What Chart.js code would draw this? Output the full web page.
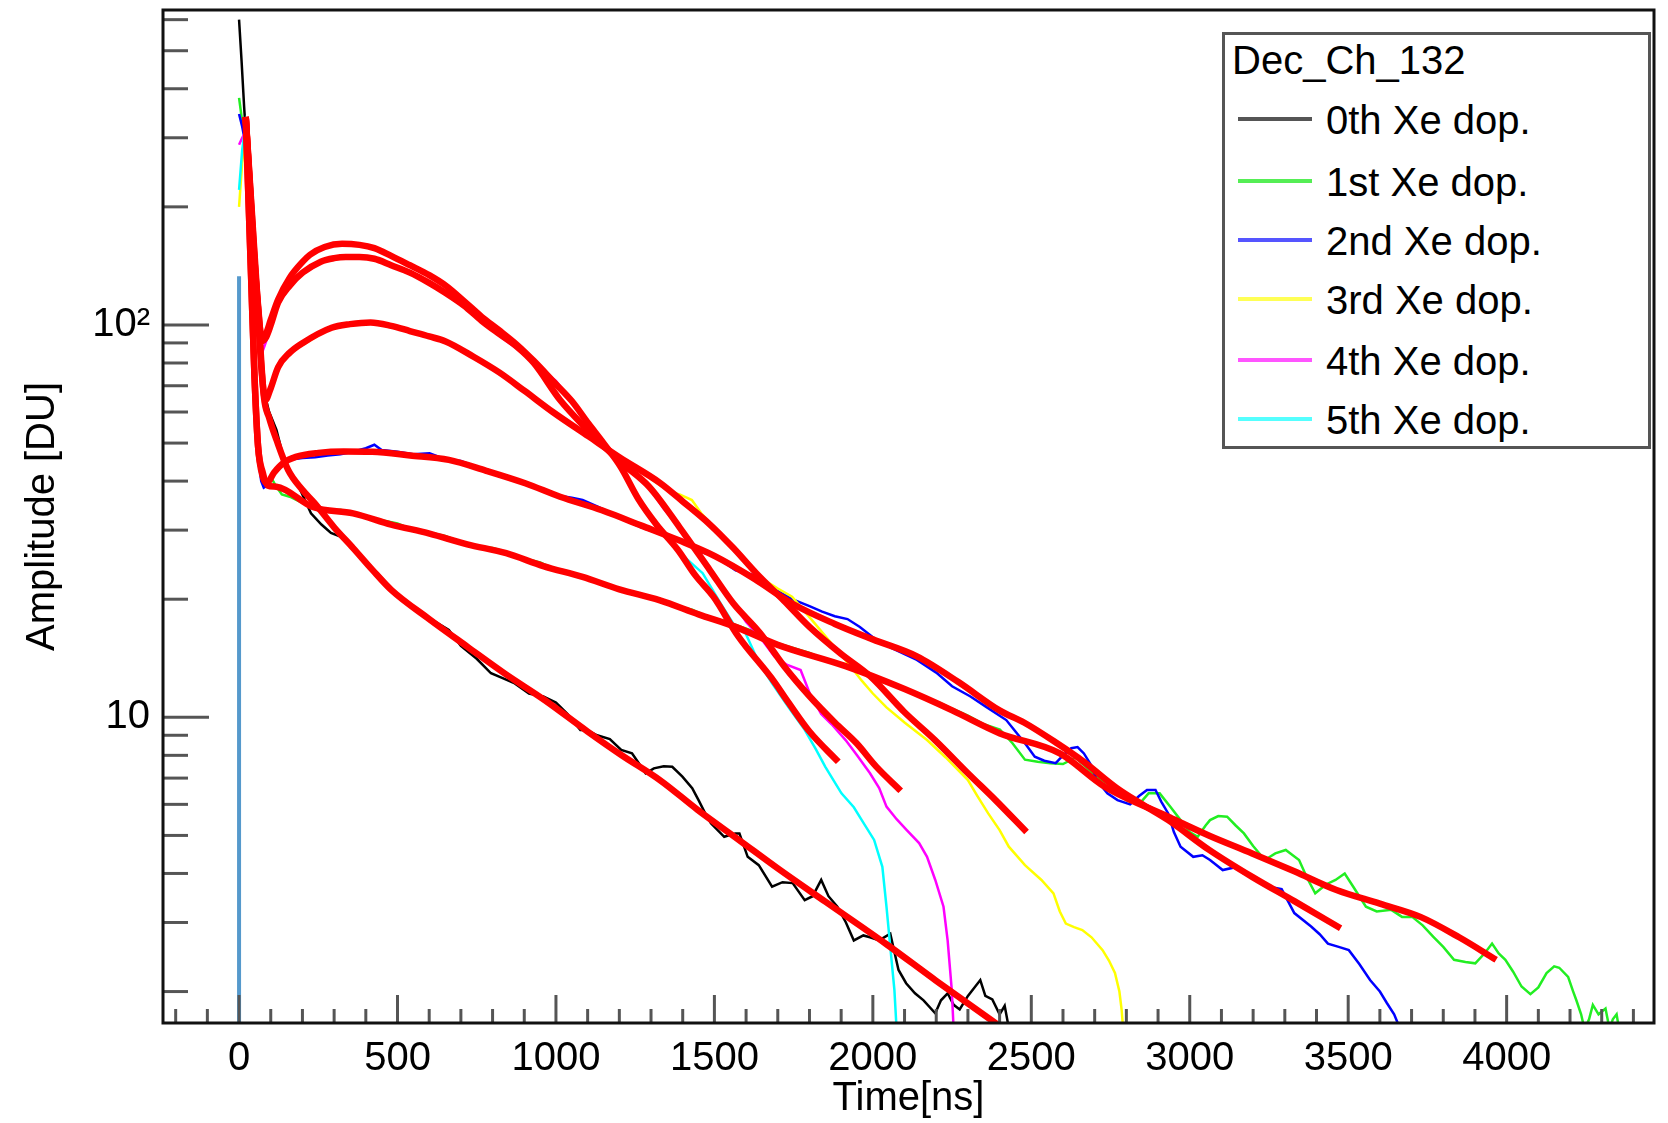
<!DOCTYPE html>
<html>
<head>
<meta charset="utf-8">
<script src="https://cdn.jsdelivr.net/npm/chart.js@4.4.1/dist/chart.umd.min.js"></script>
<style>
  html, body { margin: 0; padding: 0; background: #fff; }
  #wrap { position: relative; width: 1668px; height: 1123px; }
  #myChart { position: absolute; left: 0; top: 0; }
  #legend {
    position: absolute; left: 1222px; top: 32px; width: 429px; height: 417px;
    box-sizing: border-box; border: 3px solid #555; background: #fff;
    font-family: "Liberation Sans", Arial, Helvetica, sans-serif; font-size: 40px; color: #000;
  }
  #legend .row { position: absolute; height: 48px; line-height: 48px; white-space: nowrap; }
  #legend .swatch { position: absolute; height: 4px; width: 74px; }
</style>
</head>
<body>
<div id="wrap">
  <canvas id="myChart" width="1668" height="1123"></canvas>
  <div id="legend"></div>
</div>
<script>
// values: [time ns, amplitude DU]
const seriesNames = ["0th Xe dop.", "1st Xe dop.", "2nd Xe dop.", "3rd Xe dop.", "4th Xe dop.", "5th Xe dop."];
const legendTitle = "Dec_Ch_132";

const dop0 = [[0,600],[8,470],[16,360],[24,285],[40,190],[60,108],[78,68],[95,60],[118,54],[140,46],[160,42],[190,38.5],[227,33.1],[260,31],[290,29.5],[324,28.8],[360,27.3],[400,25],[456,22.4],[500,20.3],[550,19],[600,17.9],[662,16.7],[700,15.2],[750,14.1],[795,12.95],[830,12.6],[870,12.2],[915,11.5],[960,11.3],[1000,10.9],[1036,10.2],[1077,9.29],[1096,9.3],[1130,9.0],[1170,8.8],[1206,8.26],[1240,8.1],[1283,7.2],[1309,7.41],[1340,7.5],[1367,7.48],[1399,7.06],[1430,6.6],[1450,6.15],[1471,5.69],[1489,5.37],[1531,4.96],[1566,5.06],[1579,5.06],[1605,4.41],[1640,4.2],[1682,3.7],[1715,3.8],[1747,3.78],[1785,3.42],[1810,3.5],[1837,3.85],[1860,3.5],[1888,3.29],[1915,3.0],[1940,2.7],[1970,2.78],[1991,2.75],[2020,2.7],[2055,2.81],[2081,2.27],[2105,2.1],[2133,1.98],[2160,1.9],[2197,1.76],[2215,1.9],[2236,1.98],[2255,1.85],[2274,1.8],[2300,1.95],[2339,2.14],[2355,1.95],[2377,1.91],[2400,1.75],[2416,1.84],[2430,1.6],[2440,1.5]];

const dop1 = [[0,379],[10,330],[20,300],[30,210],[40,130],[50,76],[60,52],[70,44],[80,40.5],[90,40],[100,41],[115,39],[135,37],[160,36.5],[190,35.5],[235,34.5],[280,33.5],[320,33.8],[360,33.2],[400,32.5],[450,31.8],[500,31.2],[550,30],[600,29.6],[650,29],[700,28],[750,27.3],[800,27],[843,26.4],[900,25.4],[950,24.8],[1000,23.8],[1050,23.3],[1084,23],[1130,22.3],[1180,21.5],[1238,20.9],[1280,20.4],[1326,20.1],[1380,19.2],[1430,18.8],[1480,18],[1530,17.6],[1567,17.2],[1620,16.6],[1680,15.6],[1740,15.1],[1800,14.6],[1860,13.9],[1914,13.6],[1970,13.1],[2030,12.3],[2100,11.9],[2160,11.2],[2210,10.9],[2252,10.5],[2300,10.1],[2350,9.6],[2401,9.3],[2440,8.6],[2480,7.8],[2520,7.7],[2560,7.64],[2600,7.6],[2640,7.9],[2670,7.5],[2706,7.06],[2750,6.7],[2800,6.15],[2840,6.0],[2870,6.4],[2905,6.4],[2940,5.9],[2971,5.47],[3000,5.1],[3025,4.96],[3050,5.3],[3064,5.47],[3090,5.6],[3118,5.58],[3145,5.3],[3171,5.06],[3200,4.7],[3237,4.33],[3270,4.5],[3303,4.59],[3325,4.45],[3345,4.33],[3370,3.9],[3396,3.56],[3430,3.75],[3460,3.85],[3489,4.0],[3516,3.7],[3556,3.29],[3590,3.2],[3636,3.23],[3670,3.1],[3702,3.1],[3735,2.95],[3768,2.76],[3800,2.6],[3834,2.41],[3870,2.38],[3901,2.36],[3930,2.5],[3954,2.65],[3975,2.5],[3996,2.41],[4020,2.25],[4047,2.06],[4075,1.97],[4100,2.05],[4126,2.23],[4150,2.32],[4166,2.3],[4194,2.18],[4210,2.0],[4220,1.9],[4235,1.75],[4246,1.6],[4260,1.7],[4272,1.85],[4290,1.75],[4312,1.81],[4325,1.6],[4335,1.7],[4347,1.75],[4355,1.6]];

const dop2 = [[0,345],[10,320],[20,290],[30,200],[40,115],[50,66],[60,46],[70,40],[78,38.5],[90,39],[100,41],[115,43],[140,44.5],[170,45.5],[200,45.8],[240,46],[280,46.5],[320,46.8],[360,47.5],[400,48.5],[427,49.5],[450,48],[500,47.5],[550,46.8],[601,47.1],[650,45.5],[700,45],[750,43.5],[800,42],[843,41],[900,39.8],[950,38.5],[1000,36.8],[1050,36.3],[1084,35.8],[1130,34.5],[1180,33],[1230,31.5],[1265,30.6],[1320,29.5],[1386,28.5],[1450,26.5],[1500,25.8],[1567,23.7],[1628,23],[1690,21.2],[1745,20],[1800,19.2],[1840,18.6],[1880,18.1],[1920,17.8],[1959,17.0],[2000,16],[2060,15],[2100,14.5],[2139,14.0],[2200,13],[2250,12],[2308,11.3],[2360,10.6],[2421,9.84],[2450,9.2],[2480,8.59],[2511,7.94],[2541,7.75],[2577,7.64],[2600,8.0],[2626,8.34],[2646,8.4],[2666,8.09],[2691,7.5],[2706,6.92],[2740,6.4],[2772,6.15],[2812,6.0],[2840,6.3],[2865,6.53],[2892,6.53],[2910,6.1],[2932,5.69],[2950,5.1],[2971,4.68],[3011,4.41],[3040,4.45],[3064,4.33],[3104,4.08],[3144,4.15],[3170,4.0],[3197,3.92],[3225,3.8],[3250,3.7],[3290,3.65],[3310,3.4],[3330,3.17],[3383,2.93],[3410,2.8],[3436,2.65],[3470,2.6],[3502,2.55],[3535,2.35],[3569,2.14],[3600,2.0],[3622,1.87],[3645,1.75],[3662,1.62]];

const dop3 = [[0,200],[10,260],[20,300],[40,175],[60,105],[72,72],[83,62],[95,67],[123,79],[160,86],[201,89],[250,94],[292,98.4],[350,100],[415,101],[480,99],[539,96.5],[600,93],[652,90.5],[700,86],[740,83],[780,79],[821,75.5],[860,72],[900,68.5],[950,63.5],[990,60],[1050,55],[1103,52],[1150,48.5],[1200,46],[1260,43],[1300,40.5],[1340,38.5],[1362,37.5],[1390,37],[1429,35.8],[1460,33],[1500,30.5],[1540,28],[1576,26.2],[1620,24],[1660,22.3],[1700,21.3],[1745,20.3],[1800,18],[1862,15.7],[1920,13.8],[1965,12.4],[2000,11.5],[2043,10.6],[2100,9.7],[2171,8.75],[2230,7.9],[2300,6.92],[2330,6.3],[2364,5.69],[2400,5.16],[2429,4.68],[2480,4.2],[2532,3.85],[2570,3.56],[2590,3.2],[2609,2.98],[2635,2.92],[2661,2.87],[2690,2.75],[2725,2.55],[2745,2.4],[2764,2.23],[2778,2.0],[2785,1.8],[2790,1.6]];

const dop4 = [[0,288],[10,300],[20,310],[40,170],[55,118],[66,98],[75,86],[90,93],[105,102],[123,113],[160,125],[201,135],[258,144],[300,147],[337,149],[380,148],[427,147],[480,141],[539,135],[600,128],[652,120],[710,111],[765,102],[820,94],[877,87],[930,80],[1000,72],[1050,64],[1100,55],[1150,50],[1200,45.5],[1250,41.5],[1294,38.5],[1340,34],[1390,30.5],[1440,27],[1486,24],[1530,21.3],[1560,19.6],[1600,17.5],[1644,16.0],[1689,14.3],[1730,13.6],[1772,13.2],[1801,11.5],[1837,10.2],[1870,9.6],[1914,8.75],[1950,8.0],[1991,7.2],[2020,6.6],[2043,5.92],[2075,5.5],[2107,5.16],[2146,4.78],[2171,4.41],[2197,3.85],[2223,3.29],[2236,2.7],[2249,2.02],[2255,1.6]];

const dop5 = [[0,221],[10,280],[20,320],[44,160],[60,108],[72,90],[85,93],[100,102],[123,117],[160,133],[201,146],[224,152],[270,158],[325,161],[380,160],[427,157],[480,150],[539,142],[600,134],[652,126],[710,115],[765,105],[820,97],[877,89],[930,81],[990,72],[1050,64],[1103,56],[1150,50],[1204,43.5],[1260,36],[1317,30.6],[1385,26.5],[1463,23.3],[1520,19.5],[1560,17.3],[1598,16.4],[1640,13.8],[1682,12.2],[1734,10.6],[1785,9.29],[1820,8.3],[1850,7.48],[1901,6.4],[1940,5.9],[1965,5.47],[2004,4.87],[2030,4.16],[2043,3.29],[2055,2.6],[2068,2.02],[2075,1.6]];

// fitted curves (red)
const fit0 = [[21,339],[40,196],[60,110],[78,66],[95,58],[118,51],[155,42.7],[200,38],[239,35.1],[300,30.5],[360,27],[420,23.8],[481,21.1],[600,17.8],[722,15.1],[840,12.9],[964,11.07],[1100,9.2],[1205,8.03],[1330,6.9],[1446,5.82],[1579,4.86],[1700,4.12],[1850,3.39],[2043,2.64],[2200,2.13],[2397,1.64],[2450,1.53]];
const fit1 = [[21,339],[38,133],[49,73],[60,49],[75,42],[90,39],[118,38.7],[235,34.3],[360,33.1],[480,31],[601,29.4],[720,27.6],[843,26.2],[960,24.3],[1084,22.8],[1200,21.2],[1326,19.9],[1450,18.3],[1567,17.0],[1700,15.3],[1914,13.5],[2100,11.8],[2252,10.4],[2401,9.1],[2590,8.09],[2732,6.65],[2932,5.58],[3060,5.0],[3197,4.5],[3330,4.05],[3463,3.63],[3600,3.35],[3728,3.1],[3850,2.75],[3967,2.41]];
const fit2 = [[21,339],[38,133],[49,73],[60,49],[75,41],[88,39.6],[110,42],[140,44.5],[179,46.1],[250,47.2],[330,47.6],[420,47.5],[540,46.5],[662,45.3],[780,42.5],[903,39.5],[1013,36.5],[1145,33.7],[1270,30.8],[1386,28.3],[1500,25.8],[1628,22.5],[1745,19.5],[1880,17.3],[2000,15.8],[2139,14.3],[2270,12.3],[2401,10.4],[2477,9.7],[2580,8.6],[2666,7.7],[2770,6.6],[2850,6.0],[2932,5.47],[3060,4.6],[3197,3.92],[3330,3.4],[3476,2.9]];
const fit3 = [[21,339],[44,170],[60,105],[72,75],[83,64.4],[100,69],[123,78],[160,85],[201,90],[292,98.4],[350,100.5],[415,101.5],[480,99.5],[539,96.5],[600,93.5],[652,90.8],[740,83],[821,75.7],[900,68],[990,60],[1103,52],[1200,46],[1328,39.6],[1400,35.5],[1486,31],[1560,27],[1632,23.3],[1720,19.8],[1800,17],[1900,14.5],[1993,12.7],[2100,10.3],[2196,8.75],[2300,7.2],[2387,6.15],[2485,5.1]];
const fit4 = [[21,339],[44,165],[60,112],[72,91],[85,93],[100,100],[123,114],[160,126],[201,136],[258,145],[300,148],[337,149],[380,149],[427,147.5],[480,142],[539,136],[600,128],[652,120.6],[710,112],[765,102.6],[820,95],[877,88],[930,80],[1013,64.4],[1100,54],[1200,45],[1294,38.7],[1390,30.5],[1486,23.7],[1560,19.5],[1644,16.4],[1720,13.5],[1801,11.3],[1880,9.7],[1948,8.6],[2010,7.5],[2088,6.5]];
const fit5 = [[21,339],[44,163],[60,110],[72,92],[85,95],[100,103],[123,116],[160,132],[201,145],[224,151],[270,158],[325,161],[380,160],[427,157],[480,150],[539,142],[600,134],[652,126],[710,115],[765,105],[820,97],[877,89],[930,81],[990,72],[1050,64],[1103,56],[1150,50],[1204,43.5],[1260,36],[1317,31],[1385,26.7],[1440,23],[1497,20.3],[1576,16.05],[1680,12.6],[1734,10.9],[1800,9.2],[1891,7.7]];

// vertical rising edge at t = 0
const edgeLine = [[0,1.5],[0,133]];

const xTickValues = [0, 500, 1000, 1500, 2000, 2500, 3000, 3500, 4000];
const yTickValues = [10, 100];
const yTickLabels = ["10", "10\u00B2"];
const yMinorTicks = [2, 3, 4, 5, 6, 7, 8, 9, 20, 30, 40, 50, 60, 70, 80, 90, 200, 300, 400, 500, 600];

const dataSeries = [dop0, dop1, dop2, dop3, dop4, dop5];
const fitSeries = [fit0, fit1, fit2, fit3, fit4, fit5];

const lineColors = ["#000000", "#22ee22", "#0000ff", "#ffff00", "#ff00ff", "#00ffff"];
const legendColors = ["#555555", "#55ee55", "#5555ff", "#ffff55", "#ff55ff", "#55ffff"];
const fontFamily = '"Liberation Sans", Arial, Helvetica, sans-serif';

function toPoints(arr) {
  return arr.map(p => ({ x: p[0], y: p[1] }));
}

const datasets = [];
dataSeries.forEach((s, i) => {
  datasets.push({
    label: seriesNames[i],
    data: toPoints(s),
    showLine: true,
    borderColor: lineColors[i],
    borderWidth: 2.5,
    pointRadius: 0,
    tension: 0,
    order: 10 - i,
  });
});
datasets.push({
  label: "edge",
  data: toPoints(edgeLine),
  showLine: true,
  borderColor: "#5599cc",
  borderWidth: 4,
  pointRadius: 0,
  order: 2,
});
fitSeries.forEach((s, i) => {
  datasets.push({
    label: "fit " + i,
    data: toPoints(s),
    showLine: true,
    borderColor: "#ff0000",
    borderWidth: 6.5,
    pointRadius: 0,
    cubicInterpolationMode: "monotone",
    order: 1,
  });
});

// ROOT style frame and inward ticks
const rootAxes = {
  id: "rootAxes",
  afterDraw(chart) {
    const { ctx, chartArea: a, scales } = chart;
    ctx.save();
    ctx.strokeStyle = "#555";
    ctx.lineWidth = 3;
    for (let v = -200; v <= 4400; v += 100) {
      const px = scales.x.getPixelForValue(v);
      const len = v % 500 === 0 ? 28 : 14;
      ctx.beginPath();
      ctx.moveTo(px, a.bottom);
      ctx.lineTo(px, a.bottom - len);
      ctx.stroke();
    }
    yMinorTicks.concat(yTickValues).forEach(v => {
      const py = scales.y.getPixelForValue(v);
      const len = yTickValues.includes(v) ? 46 : 25;
      ctx.beginPath();
      ctx.moveTo(a.left, py);
      ctx.lineTo(a.left + len, py);
      ctx.stroke();
    });
    ctx.strokeStyle = "#111";
    ctx.lineWidth = 3;
    ctx.strokeRect(a.left, a.top, a.right - a.left, a.bottom - a.top);
    ctx.restore();
  },
};

const ctx = document.getElementById("myChart");
new Chart(ctx, {
  type: "scatter",
  data: { datasets: datasets },
  options: {
    responsive: false,
    animation: false,
    layout: { padding: { top: 10, right: 14, left: 0, bottom: 0 } },
    plugins: {
      legend: { display: false },
      tooltip: { enabled: false },
    },
    scales: {
      x: {
        type: "linear",
        min: -240,
        max: 4465,
        afterBuildTicks: s => { s.ticks = xTickValues.map(v => ({ value: v })); },
        afterFit: s => { s.height = 100; s.paddingLeft = 0; s.paddingRight = 0; },
        grid: { display: false, drawTicks: false },
        border: { display: false },
        ticks: {
          color: "#000",
          font: { family: fontFamily, size: 40 },
          padding: 12,
          maxRotation: 0,
          autoSkip: false,
          callback: v => String(v),
        },
        title: {
          display: true,
          text: "Time[ns]",
          color: "#000",
          font: { family: fontFamily, size: 40 },
          padding: { top: 0, bottom: 0 },
        },
      },
      y: {
        type: "logarithmic",
        min: 1.663,
        max: 635,
        afterBuildTicks: s => { s.ticks = yTickValues.map(v => ({ value: v })); },
        afterFit: s => { s.width = 163; s.paddingTop = 0; s.paddingBottom = 0; },
        grid: { display: false, drawTicks: false },
        border: { display: false },
        ticks: {
          color: "#000",
          font: { family: fontFamily, size: 40 },
          padding: 13,
          autoSkip: false,
          callback: v => {
            const k = yTickValues.indexOf(v);
            return k >= 0 ? yTickLabels[k] : "";
          },
        },
        title: {
          display: true,
          text: "Amplitude [DU]",
          color: "#000",
          font: { family: fontFamily, size: 40 },
          padding: { top: 19, bottom: 0 },
        },
      },
    },
  },
  plugins: [rootAxes],
});

// legend box
const legend = document.getElementById("legend");
const boxLeft = 1222, boxTop = 32, border = 3;
function addRow(text, centerY, textX) {
  const row = document.createElement("div");
  row.className = "row";
  row.style.left = (textX - boxLeft - border) + "px";
  row.style.top = (centerY - 23.5 - boxTop - border) + "px";
  row.textContent = text;
  legend.appendChild(row);
}
addRow(legendTitle, 59, 1232);
const rowCenters = [119, 181, 240, 299, 360, 419];
seriesNames.forEach((name, i) => {
  const sw = document.createElement("div");
  sw.className = "swatch";
  sw.style.left = (1238 - boxLeft - border) + "px";
  sw.style.top = (rowCenters[i] - 2 - boxTop - border) + "px";
  sw.style.background = legendColors[i];
  legend.appendChild(sw);
  addRow(name, rowCenters[i], 1326);
});
</script>
</body>
</html>
